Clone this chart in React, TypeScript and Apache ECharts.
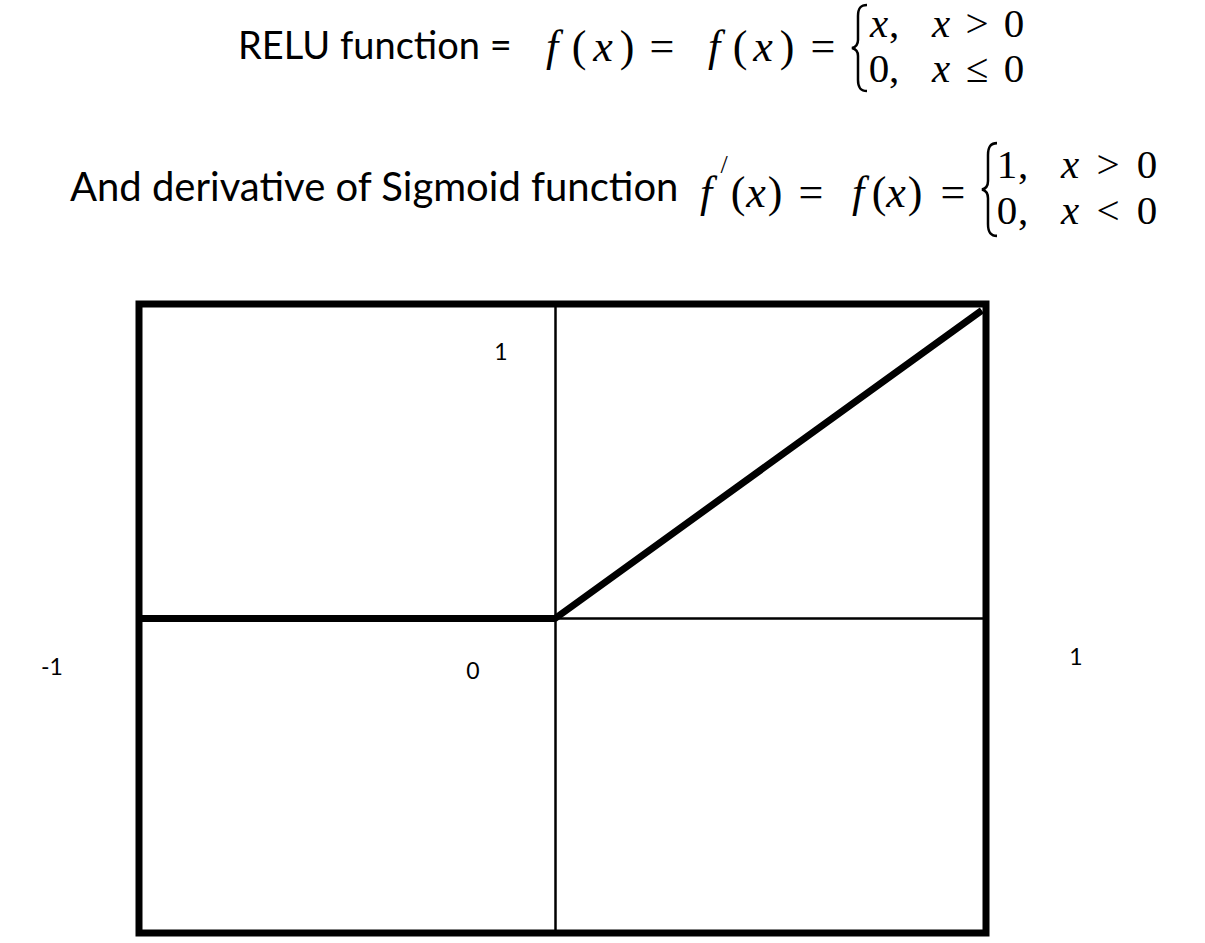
import React, { useEffect, useRef } from "react";
import * as echarts from "echarts";

// ---- data ----
const xDomain = [-1, 1.036];
const yDomain = [-1, 1];
const reluX = [-1, 0, 1.026];
const reluY = [0, 0, 0.98];
const quadrantLabels = ["1", "0", "-1", "1"];
const line1Text = "RELU function =";
const line2Text = "And derivative of Sigmoid function";
const eq1Tokens = ["f", "(", "x", ")", "=", "f", "(", "x", ")", "="];
const eq1Case1 = ["x", ",", "x", ">", "0"];
const eq1Case2 = ["0", ",", "x", "≤", "0"];
const eq2Tokens = ["f", "(", "x", ")", "=", "f", "(", "x", ")", "="];
const eq2Case1 = ["1", ",", "x", ">", "0"];
const eq2Case2 = ["0", ",", "x", "<", "0"];
const primeMark = "/";

const BRACE_D =
  "M16,1 C9,1 7,5 7,12 L7,36 C7,41 5,43 1,44 C5,45 7,47 7,52 L7,76 C7,83 9,87 16,87";
let braceRegistered = false;
function registerBrace() {
  if (braceRegistered) return;
  echarts.graphic.registerShape("brace", echarts.graphic.extendPath(BRACE_D, {}));
  braceRegistered = true;
}

const SERIF = '"Liberation Serif", "DejaVu Serif", serif';
const SANS = 'Lato, "Noto Sans", sans-serif';
const MATH = 44;
const CASE = 41;

function txt(text: string, x: number, y: number, size: number, italic: boolean, family: string, align = "center") {
  return {
    type: "text",
    x,
    y,
    silent: true,
    style: {
      text,
      fill: "#000",
      font: `${italic ? "italic " : ""}${size}px ${family}`,
      align,
      verticalAlign: "middle",
    },
  };
}

const isItalic = (t: string) => t === "f" || t === "x";

export default function App() {
  const ref = useRef<HTMLDivElement>(null);
  useEffect(() => {
    if (!ref.current) return;
    registerBrace();
    const chart = echarts.init(ref.current, null, { renderer: "svg" });

    const g: any[] = [];
    // Line 1
    g.push(txt(line1Text, 238, 44, 38, false, SANS, "left"));
    const eq1X = [552, 579, 603, 627, 662, 714, 740, 763, 787, 823];
    eq1Tokens.forEach((t, i) => g.push(txt(t, eq1X[i], 46, MATH, isItalic(t), SERIF)));
    g.push({ type: "brace", x: 851, y: 4, scaleX: 1, scaleY: 1, silent: true, style: { fill: "none", stroke: "#000", lineWidth: 2.5 } });
    const c1X = [879, 894, 941, 977, 1014];
    eq1Case1.forEach((t, i) => g.push(txt(t, c1X[i], 23, CASE, isItalic(t), SERIF)));
    eq1Case2.forEach((t, i) => g.push(txt(t, c1X[i], 68, CASE, isItalic(t), SERIF)));

    // Line 2
    g.push(txt(line2Text, 70, 186, 40, false, SANS, "left"));
    const eq2X = [706, 738, 756, 775, 811, 858, 879, 896, 915, 953];
    eq2Tokens.forEach((t, i) => g.push(txt(t, eq2X[i], 192, MATH, isItalic(t), SERIF)));
    g.push(txt(primeMark, 724, 164, 26, false, SERIF));
    g.push({ type: "brace", x: 981, y: 142, scaleX: 1, scaleY: 95 / 88, silent: true, style: { fill: "none", stroke: "#000", lineWidth: 2.5 } });
    const c2X = [1007, 1023, 1070, 1108, 1147];
    eq2Case1.forEach((t, i) => g.push(txt(t, c2X[i], 164, CASE, isItalic(t), SERIF)));
    eq2Case2.forEach((t, i) => g.push(txt(t, c2X[i], 210, CASE, isItalic(t), SERIF)));

    // Quadrant labels
    const labelPos = [
      [501, 351],
      [473, 670],
      [52, 666],
      [1076, 656],
    ];
    quadrantLabels.forEach((t, i) => g.push(txt(t, labelPos[i][0], labelPos[i][1], 23, false, SANS)));

    chart.setOption({
      animation: false,
      backgroundColor: "#fff",
      grid: {
        left: 139,
        top: 304,
        width: 847,
        height: 629,
        show: true,
        borderColor: "#000",
        borderWidth: 7,
        backgroundColor: "transparent",
      },
      xAxis: {
        type: "value",
        min: xDomain[0],
        max: xDomain[1],
        axisLine: { show: true, onZero: true, lineStyle: { color: "#000", width: 2.5 } },
        axisTick: { show: false },
        axisLabel: { show: false },
        splitLine: { show: false },
      },
      yAxis: {
        type: "value",
        min: yDomain[0],
        max: yDomain[1],
        axisLine: { show: true, onZero: true, lineStyle: { color: "#000", width: 2.5 } },
        axisTick: { show: false },
        axisLabel: { show: false },
        splitLine: { show: false },
      },
      series: [
        {
          type: "line",
          data: reluX.map((x, i) => [x, reluY[i]]),
          symbol: "none",
          lineStyle: { color: "#000", width: 7 },
          silent: true,
        },
      ],
      graphic: g,
    });
    return () => chart.dispose();
  }, []);
  return <div ref={ref} style={{ position: "absolute", left: 0, top: 0, width: 1205, height: 943 }} />;
}
